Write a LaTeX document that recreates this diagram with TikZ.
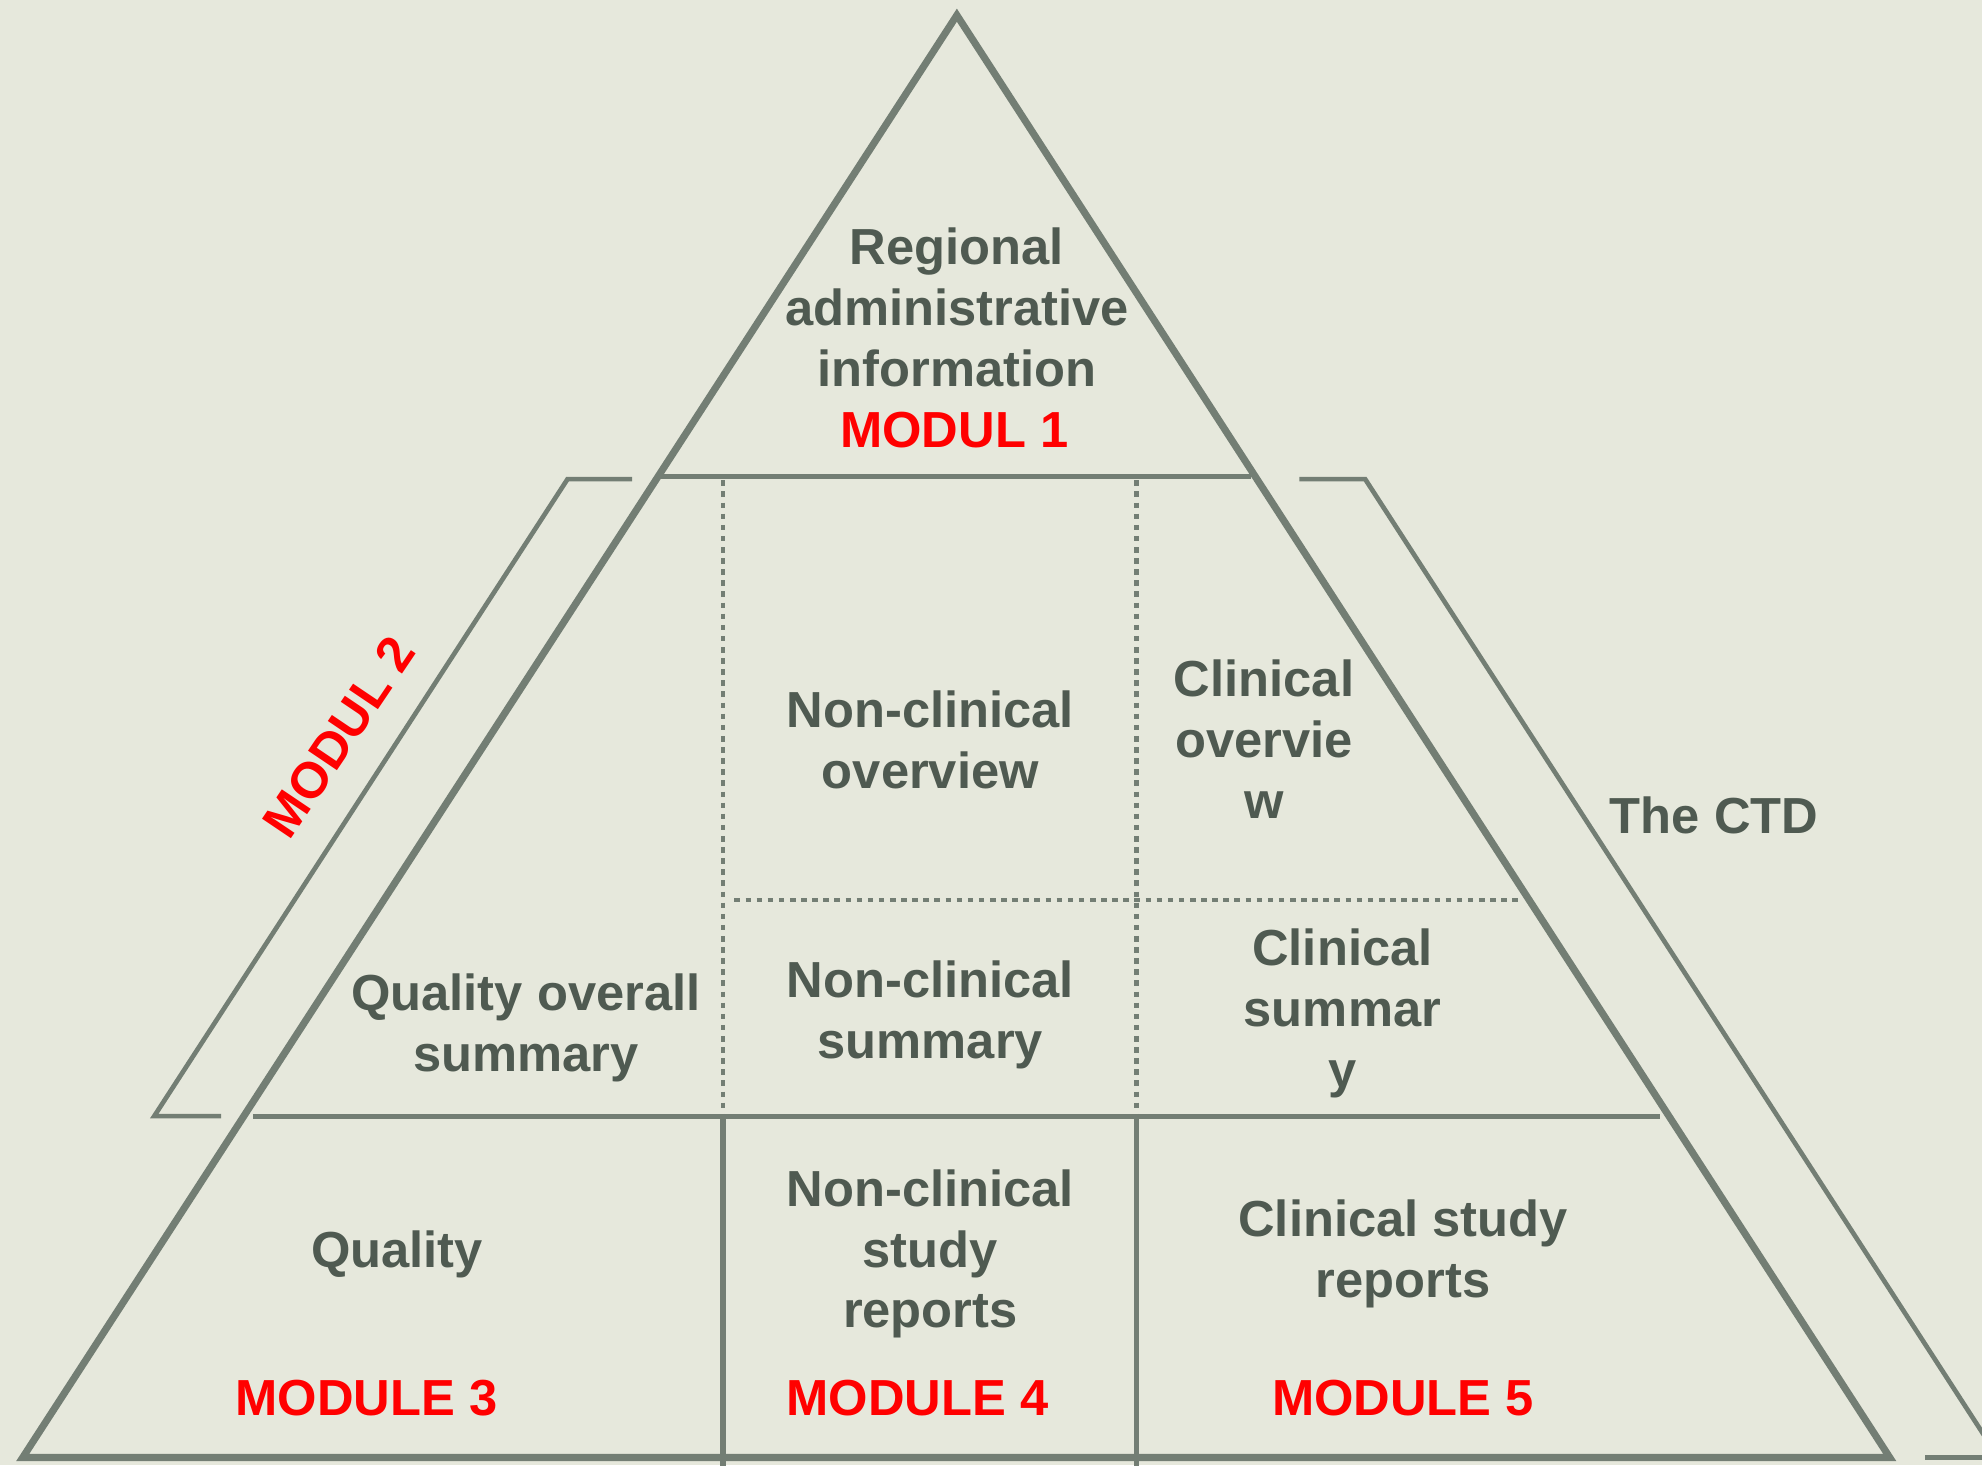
\documentclass[tikz,border=0pt]{standalone}
\usepackage{fontspec}
\setmainfont{Liberation Sans}
\definecolor{bg}{HTML}{E6E8DC}
\definecolor{linegray}{HTML}{737E74}
\definecolor{textgray}{HTML}{4F5A51}
\definecolor{modred}{HTML}{FF0000}
\begin{document}
\begin{tikzpicture}[x=0.01cm,y=-0.01cm,
  frame/.style={draw=linegray, line width=1.6pt, line join=miter},
  rule/.style={draw=linegray, line width=1.15pt},
  bracket/.style={draw=linegray, line width=1.05pt, line join=miter},
  dotrule/.style={draw=linegray, line width=1.1pt, dash pattern=on 1.25pt off 1.25pt},
  lbl/.style={text=textgray, font=\bfseries\fontsize{11.4}{13.7}\selectfont, align=center, inner sep=0pt},
  mod/.style={text=modred, font=\bfseries\fontsize{11.4}{13.7}\selectfont, inner sep=0pt}]

% page and background
\fill[bg] (0,0) rectangle (1568,1159);
\useasboundingbox (0,0) rectangle (1568,1159);
\clip (0,0) rectangle (1568,1159);

% outline of the pyramid
\coordinate (apex) at (757,12);
\coordinate (bl) at (18,1153);
\coordinate (br) at (1495,1153);
\draw[frame] (apex) -- (bl) -- (br) -- cycle;

% horizontal tiers
\coordinate (t1l) at (523,377);
\coordinate (t1r) at (990,377);
\coordinate (t2l) at (200,883);
\coordinate (t2r) at (1313,883);
\draw[rule] (t1l) -- (t1r);
\draw[rule] (t2l) -- (t2r);

% solid column dividers in the base
\coordinate (c1t) at (572,883);
\coordinate (c1b) at (572,1162);
\coordinate (c2t) at (899,883);
\coordinate (c2b) at (899,1162);
\draw[rule] (c1t) -- (c1b);
\draw[rule] (c2t) -- (c2b);

% dotted dividers in the summary tier
\coordinate (d1t) at (572,380);
\coordinate (d2t) at (899,380);
\coordinate (dhl) at (581,712);
\coordinate (dhr) at (1205,712);
\draw[dotrule] (d1t) -- (c1t);
\draw[dotrule] (d2t) -- (c2t);
\draw[dotrule] (dhl) -- (dhr);

% left bracket (Module 2)
\coordinate (lb1) at (500,379);
\coordinate (lb2) at (449,379);
\coordinate (lb3) at (122,883);
\coordinate (lb4) at (175,883);
\draw[bracket] (lb1) -- (lb2) -- (lb3) -- (lb4);

% right bracket (whole CTD)
\coordinate (rb1) at (1028,379);
\coordinate (rb2) at (1080,379);
\coordinate (rb3) at (1581,1153);
\coordinate (rb4) at (1523,1153);
\draw[bracket] (rb1) -- (rb2) -- (rb3) -- (rb4);

% texts
\node[lbl] (regional) at (757,243) {Regional\\administrative\\information};
\node[mod] (m1) at (755,340) {MODUL 1};
\node[mod, rotate=56] (m2) at (268,583) {MODUL 2};
\node[lbl] (ncov) at (736,585) {Non-clinical\\overview};
\node[lbl] (cov) at (1000,585) {Clinical\\overvie\\w};
\node[lbl] (qos) at (416,813) {Quality overall\\summary};
\node[lbl] (ncsum) at (736,803) {Non-clinical\\summary};
\node[lbl] (csum) at (1062,802) {Clinical\\summar\\y};
\node[lbl] (quality) at (314,992) {Quality};
\node[lbl] (ncrep) at (736,992) {Non-clinical\\study\\reports};
\node[lbl] (crep) at (1110,992) {Clinical study\\reports};
\node[mod] (m3) at (290,1106) {MODULE 3};
\node[mod] (m4) at (726,1106) {MODULE 4};
\node[mod] (m5) at (1110,1106) {MODULE 5};
\node[lbl] (ctd) at (1356,645) {The CTD};
\end{tikzpicture}
\end{document}
